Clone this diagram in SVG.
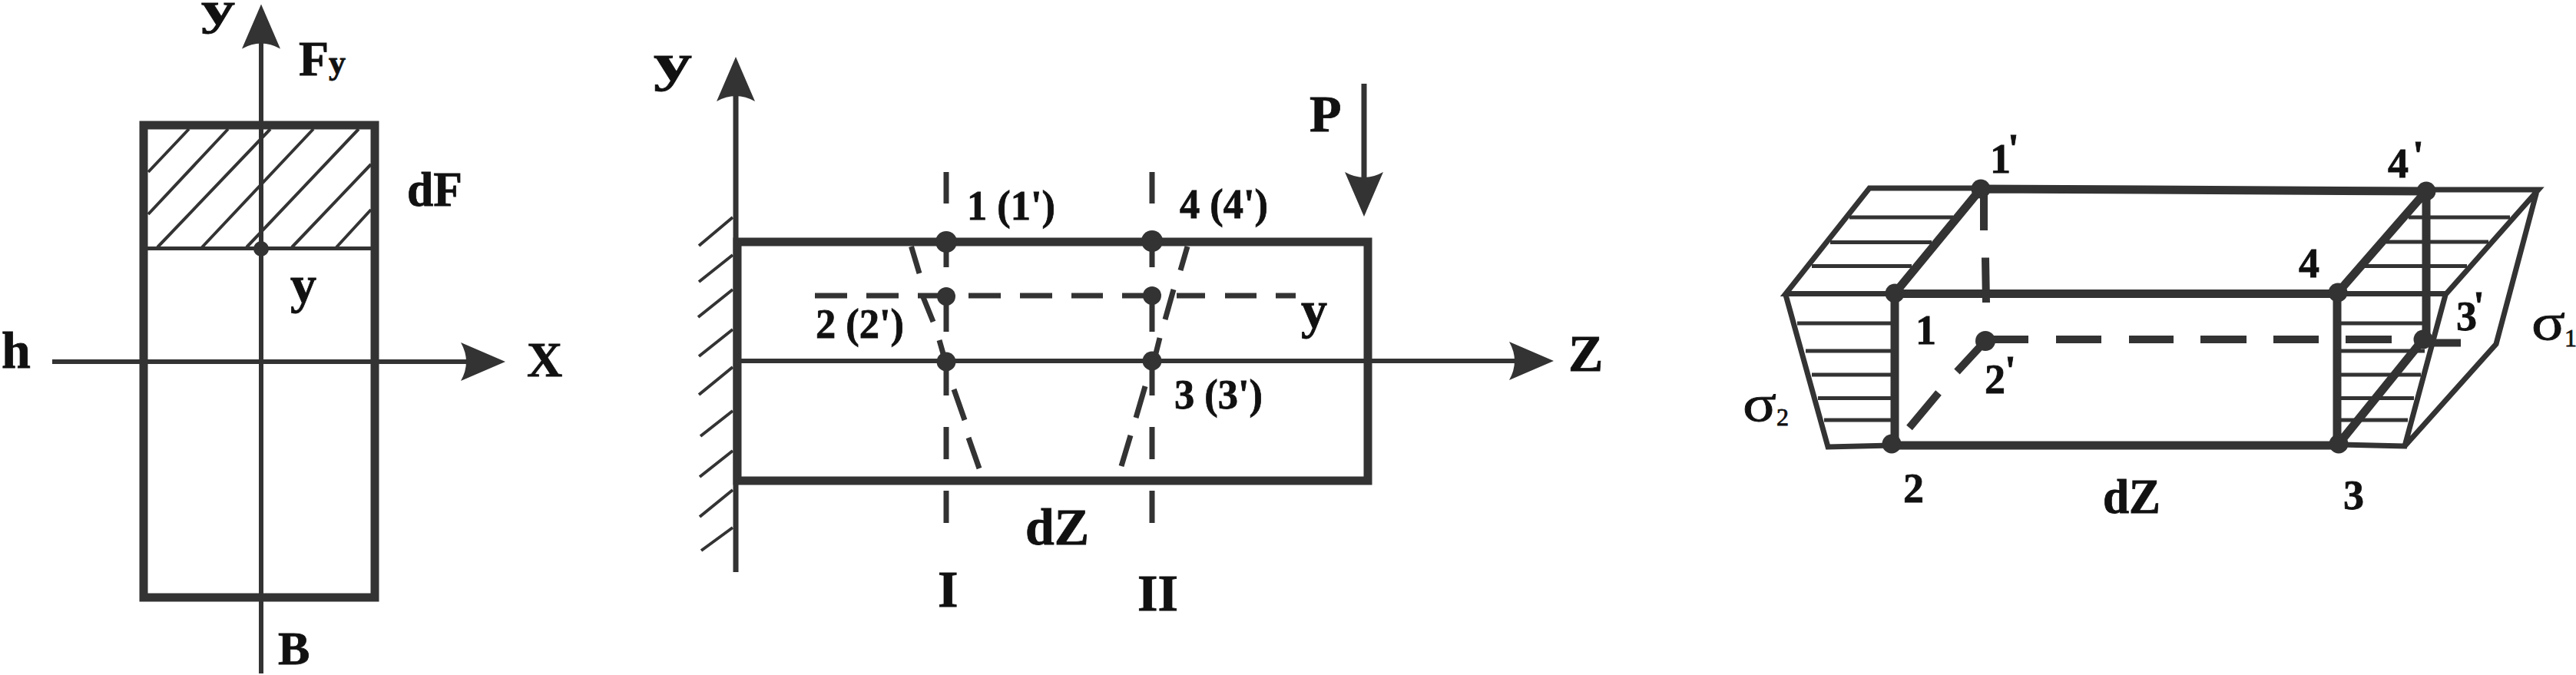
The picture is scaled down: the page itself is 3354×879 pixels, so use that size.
<svg xmlns="http://www.w3.org/2000/svg" width="3354" height="879" viewBox="0 0 3354 879">
<style>
.l{stroke:#333;fill:none;stroke-linecap:butt}
.w11{stroke-width:11}.w10{stroke-width:10}.w7{stroke-width:7}.w6{stroke-width:6}.w5{stroke-width:5}.w4{stroke-width:4}
.d{fill:#333;stroke:none}
text{font-family:"Liberation Serif","Times New Roman",serif;font-weight:bold;fill:#111;stroke:#111;stroke-width:.8}
.f68{font-size:68px}.f64{font-size:64px}.f54{font-size:54px}
.s{font-weight:normal}
</style>
<defs>
<marker id="head" markerUnits="userSpaceOnUse" markerWidth="60" markerHeight="52" refX="10" refY="26" orient="auto">
<path d="M58 26L0 1Q14 26 0 51Z" fill="#333"/>
</marker>
</defs>
<rect width="3354" height="879" fill="#fff"/>

<g id="cross-section">
<g class="l w4">
<path d="M193 224L246 168M193 279L297 168M205 322L352 168M263 322L408 168M321 322L467 168M380 322L483 214M438 322L483 273"/>
</g>
<path class="l w5" d="M192 323.5H483"/>
<rect class="l w11" x="187" y="163" width="301" height="615"/>
<circle class="d" cx="340" cy="324" r="10"/>
<text x="262" y="31" font-size="60" textLength="44" lengthAdjust="spacingAndGlyphs">y</text>
<text class="f64" x="389" y="98">F<tspan font-size="44" y="96">y</tspan></text>
<text class="f64" x="530" y="268" textLength="72" lengthAdjust="spacingAndGlyphs">dF</text>
<text class="f68" x="378" y="394">y</text>
<text class="f68" x="2" y="479">h</text>
<text class="f64" x="686" y="490">X</text>
<text x="362" y="865" font-size="62">B</text>
</g>

<g id="beam">
<path class="l w4" d="M954 283L910 320M954 332L910 367M954 377L909 413M954 429L910 464M954 478L910 514M954 535L912 568M954 587L911 621M954 638L911 673M954 687L913 717"/>
<path class="l w11" d="M960 315H1781V626H960Z"/>
<path class="l w7" d="M1232 224V265M1232 315V348M1232 386V432M1232 471V515M1232 556V598M1232 639V681"/>
<path class="l w7" d="M1500 224V265M1500 314V348M1500 385V432M1500 470V515M1500 556V598M1500 639V681"/>
<path class="l w7" d="M1186.5 321L1197 356M1202 387L1215 419M1223 443L1231 471M1242 507L1256 547M1261 570L1275 610"/>
<path class="l w7" d="M1546 321L1537 352M1528 377L1517 416M1510 440L1503 468M1491 503L1479 544M1472 567L1460 607"/>
<path class="l w7" d="M1061 385H1103M1128 385H1170M1195 385H1232M1261 385H1303M1328 385H1370M1395 385H1436M1461 385H1500M1532 385H1569M1595 385H1636M1661 385H1687"/>
<g id="beam-points" class="d">
<circle cx="1232" cy="315" r="14"/><circle cx="1232" cy="386" r="12"/><circle cx="1232" cy="471" r="12.5"/>
<circle cx="1500" cy="314" r="14"/><circle cx="1500" cy="385" r="12"/><circle cx="1500" cy="470" r="12.5"/>
</g>
<text class="f68" x="851" y="105" textLength="50" lengthAdjust="spacingAndGlyphs">y</text>
<text class="f54" x="1259" y="286" textLength="115" lengthAdjust="spacingAndGlyphs">1 (1')</text>
<text class="f54" x="1062" y="440" textLength="115" lengthAdjust="spacingAndGlyphs">2 (2')</text>
<text class="f54" x="1536" y="284" textLength="115" lengthAdjust="spacingAndGlyphs">4 (4')</text>
<text class="f54" x="1529" y="532" textLength="115" lengthAdjust="spacingAndGlyphs">3 (3')</text>
<text class="f68" x="1694" y="427">y</text>
<text class="f68" x="2042" y="483">Z</text>
<text class="f68" x="1705" y="171">P</text>
<text class="f68" x="1221" y="790">I</text>
<text class="f68" x="1481" y="795">II</text>
<text class="f68" x="1335" y="709" textLength="83" lengthAdjust="spacingAndGlyphs">dZ</text>
</g>

<g id="element">
<g id="stress-left">
<path class="l w7" d="M2579 245H2434L2325 382.5H2467M2325 384L2380 582L2463 580"/>
<path class="l w5" d="M2408 283H2543M2383 315.6H2515M2359 346.6H2489M2340 421H2462M2351 457H2462M2359 488H2462M2367 518.4H2462M2375 547H2462"/>
</g>
<g id="stress-right">
<path class="l w7" d="M3159 247H3305L3185 382.5H3044M3184 384L3131 581L3045 579M3303 249L3250 448L3131 581"/>
<path class="l w5" d="M3136 283H3268M3107 315H3240M3079 346.6H3212M3047 421H3162M3047 457H3157M3047 488H3152M3047 518.4H3143M3047 547H3135"/>
</g>
<g id="element-edges" class="l w11">
<path d="M2579 246L3159 249M2467 382.5H3044M2463 580H3045M2467 382V578M3043 381V578M2467 382L2579 246M3044 381L3159 249M3045 578L3155 442M3159 249V442"/>
</g>
<g id="element-hidden" class="l w10">
<path d="M2583 246V300M2585 335.5L2586 394M2585 444L2548 484M2524 511.5L2486 557M2585 442H2641M2677 442H2736M2772 442H2830M2865 442H2925M2960 442H3019M3054 442H3114M3155 446.5H3204"/>
</g>
<g id="element-points" class="d">
<circle cx="2579" cy="246" r="12.5"/><circle cx="2467" cy="382" r="12.5"/><circle cx="2463" cy="578" r="12.5"/><circle cx="2585" cy="444" r="13"/>
<circle cx="3159" cy="249" r="12.5"/><circle cx="3044" cy="381" r="12.5"/><circle cx="3045" cy="578" r="12.5"/><circle cx="3155" cy="442" r="12.5"/>
</g>
<text class="f54" x="2591" y="225">1<tspan x="2614" y="212">'</tspan></text>
<text class="f54" x="2494" y="448">1</text>
<text class="f54" x="2478" y="654">2</text>
<text class="f54" x="2584" y="512">2<tspan x="2610" y="501">'</tspan></text>
<text class="f54" x="3051" y="663">3</text>
<text class="f54" x="2993" y="361">4</text>
<text class="f54" x="3109" y="231">4<tspan x="3141" y="221">'</tspan></text>
<text class="f54" x="3198" y="430">3<tspan x="3220" y="417">'</tspan></text>
<text class="f68 s" x="2269" y="548" textLength="44" lengthAdjust="spacingAndGlyphs">σ</text>
<text x="2313" y="554" font-size="32" class="s">2</text>
<text class="f68 s" x="3296" y="442" textLength="44" lengthAdjust="spacingAndGlyphs">σ</text>
<text x="3339" y="451" font-size="32" class="s">1</text>
<text class="f64" x="2738" y="668" textLength="75" lengthAdjust="spacingAndGlyphs">dZ</text>
</g>

<g id="connectors">
<path class="l w6" d="M340 877V53.6" marker-end="url(#head)"/>
<path class="l w6" d="M68 471H610" marker-end="url(#head)"/>
<path class="l w7" d="M958 745V122" marker-end="url(#head)"/>
<path class="l w6" d="M960 470H1975" marker-end="url(#head)"/>
<path class="l w7" d="M1776 109V234" marker-end="url(#head)"/>
</g>
</svg>
